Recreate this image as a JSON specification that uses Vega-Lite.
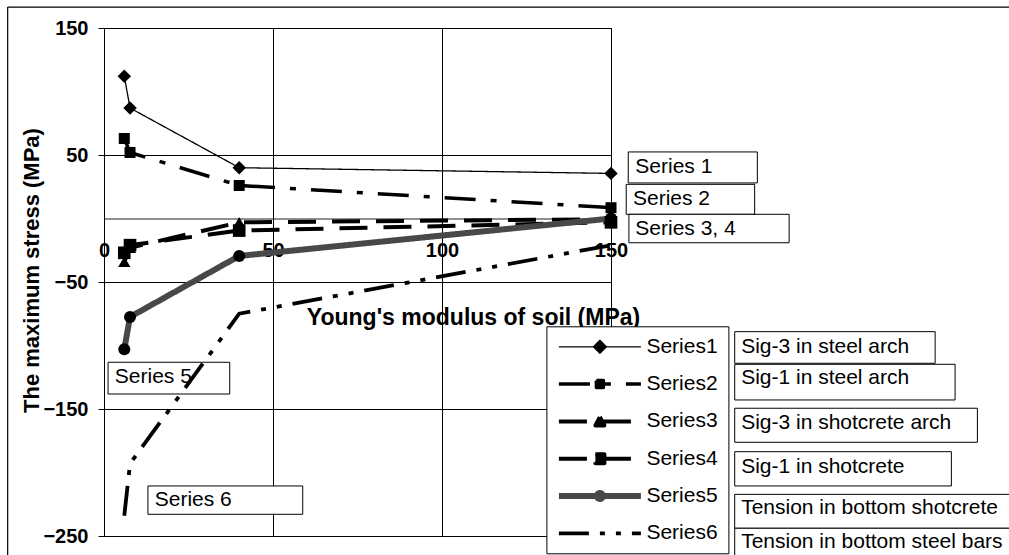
{
  "$schema": "https://vega.github.io/schema/vega-lite/v6.json",
  "width": 507,
  "height": 508,
  "autosize": {"type": "none"},
  "padding": {"left": 104, "top": 28, "right": 398, "bottom": 19},
  "background": "white",
  "config": {
    "font": "Liberation Sans",
    "view": {"stroke": "black", "strokeWidth": 1},
    "axis": {
      "labelFont": "Liberation Sans",
      "labelFontWeight": "bold",
      "labelColor": "black",
      "titleFont": "Liberation Sans",
      "titleFontWeight": "bold",
      "titleColor": "black",
      "gridColor": "black",
      "gridOpacity": 1,
      "gridWidth": 1,
      "labelOverlap": false,
      "labelFlush": false
    }
  },
  "datasets": {
    "series": [
      {"series": "Series1", "E": 6, "stress": 112},
      {"series": "Series1", "E": 7.7, "stress": 87},
      {"series": "Series1", "E": 40, "stress": 40},
      {"series": "Series1", "E": 150, "stress": 35.5},
      {"series": "Series2", "E": 6, "stress": 63},
      {"series": "Series2", "E": 7.7, "stress": 52},
      {"series": "Series2", "E": 40, "stress": 26},
      {"series": "Series2", "E": 150, "stress": 8.5},
      {"series": "Series3", "E": 6, "stress": -34},
      {"series": "Series3", "E": 7.7, "stress": -23},
      {"series": "Series3", "E": 40, "stress": -3},
      {"series": "Series3", "E": 150, "stress": -0.5},
      {"series": "Series4", "E": 6, "stress": -27},
      {"series": "Series4", "E": 7.7, "stress": -21},
      {"series": "Series4", "E": 40, "stress": -9.5},
      {"series": "Series4", "E": 150, "stress": -3},
      {"series": "Series5", "E": 6, "stress": -103},
      {"series": "Series5", "E": 7.7, "stress": -77.5},
      {"series": "Series5", "E": 40, "stress": -29.5},
      {"series": "Series5", "E": 150, "stress": 0},
      {"series": "Series6", "E": 6, "stress": -234},
      {"series": "Series6", "E": 7.7, "stress": -193},
      {"series": "Series6", "E": 40, "stress": -75},
      {"series": "Series6", "E": 150, "stress": -21}
    ],
    "boxes": [
      {"E": 155.1, "E2": 193.3, "stress": 52.4, "stress2": 28.0},
      {"E": 154.5, "E2": 192.5, "stress": 26.9, "stress2": 3.3},
      {"E": 155.3, "E2": 202.7, "stress": 3.3, "stress2": -19.1},
      {"E": 1.2, "E2": 37.2, "stress": -113.2, "stress2": -138.2},
      {"E": 13.0, "E2": 58.8, "stress": -210.6, "stress2": -232.9},
      {"E": 186.6, "E2": 245.9, "stress": -89.1, "stress2": -114.0},
      {"E": 186.6, "E2": 251.8, "stress": -114.8, "stress2": -142.9},
      {"E": 186.6, "E2": 258.4, "stress": -149.4, "stress2": -176.2},
      {"E": 186.6, "E2": 250.7, "stress": -183.6, "stress2": -210.6},
      {"E": 186.6, "E2": 272, "stress": -217.2, "stress2": -243.9},
      {"E": 186.6, "E2": 272, "stress": -243.9, "stress2": -275}
    ],
    "labels": [
      {"label": "Series 1", "E": 157.2, "stress": 40.2},
      {"label": "Series 2", "E": 156.5, "stress": 15.4},
      {"label": "Series 3, 4", "E": 157.2, "stress": -7.9},
      {"label": "Series 5", "E": 3.2, "stress": -124.8},
      {"label": "Series 6", "E": 15.0, "stress": -221.7},
      {"label": "Sig-3 in steel arch", "E": 188.5, "stress": -100.9},
      {"label": "Sig-1 in steel arch", "E": 188.5, "stress": -125.8},
      {"label": "Sig-3 in shotcrete arch", "E": 188.5, "stress": -160.8},
      {"label": "Sig-1 in shotcrete", "E": 188.5, "stress": -195.4},
      {"label": "Tension in bottom shotcrete", "E": 188.5, "stress": -228.2},
      {"label": "Tension in bottom steel bars", "E": 188.5, "stress": -254.5}
    ],
    "frame": [
      {"E": -28.5, "E2": 300, "stress": 166.5, "stress2": 166.5},
      {"E": -28.5, "E2": -28.5, "stress": 166.5, "stress2": -300}
    ]
  },
  "encoding": {
    "x": {
      "field": "E", "type": "quantitative",
      "scale": {"domain": [0, 150], "nice": false, "zero": false},
      "axis": {
        "title": "Young's modulus of soil (MPa)",
        "values": [0, 50, 100, 150],
        "offset": -317.5,
        "grid": true,
        "ticks": false,
        "domainColor": "#222222",
        "labelPadding": 22,
        "labelFontSize": 20,
        "titleFontSize": 23,
        "titleX": 369,
        "titleY": 98.5,
        "titleBaseline": "middle",
        "titleAlign": "center"
      }
    },
    "y": {
      "field": "stress", "type": "quantitative",
      "scale": {"domain": [-250, 150], "nice": false, "zero": false},
      "axis": {
        "title": "The maximum stress (MPa)",
        "values": [-250, -150, -50, 50, 150],
        "grid": true,
        "tickSize": 6,
        "tickColor": "black",
        "domainColor": "black",
        "labelPadding": 10,
        "labelFontSize": 20,
        "titleFontSize": 22,
        "titleX": -72.8,
        "titleY": 242,
        "titleAngle": 270,
        "titleBaseline": "middle",
        "titleAlign": "center"
      }
    }
  },
  "layer": [
    {
      "data": {"name": "frame"},
      "mark": {"type": "rule", "color": "black", "strokeWidth": 1.2},
      "encoding": {
        "x2": {"field": "E2"},
        "y2": {"field": "stress2"}
      }
    },
    {
      "data": {"name": "boxes"},
      "mark": {"type": "rect", "fill": "white", "stroke": "black", "strokeWidth": 1},
      "encoding": {
        "x2": {"field": "E2"},
        "y2": {"field": "stress2"}
      }
    },
    {
      "data": {"name": "labels"},
      "mark": {"type": "text", "align": "left", "baseline": "middle", "fontSize": 21, "font": "Liberation Sans", "color": "black"},
      "encoding": {
        "text": {"field": "label"}
      }
    },
    {
      "data": {"name": "series"},
      "mark": {"type": "line"},
      "encoding": {
        "color": {
          "field": "series", "type": "nominal",
          "scale": {"domain": ["Series1", "Series2", "Series3", "Series4", "Series5", "Series6"], "range": ["black", "black", "black", "black", "#484848", "black"]},
          "legend": {
            "orient": "none",
            "legendX": 442.4,
            "legendY": 298.3,
            "title": null,
            "strokeColor": "black",
            "fillColor": "white",
            "padding": 10,
            "cornerRadius": 0,
            "labelFont": "Liberation Sans",
            "labelFontSize": 21,
            "labelColor": "black",
            "labelLimit": 200,
            "symbolSize": 4,
            "symbolOffset": 33,
            "labelOffset": 36,
            "rowPadding": 15.3,
            "encode": {
              "symbols": {
                "update": {
                  "shape": {"signal": "datum.value === 'Series1' ? 'M-41,0H41M-6.5,0L0,-6.5L6.5,0L0,6.5Z' : datum.value === 'Series2' ? 'M-41,0H41M-3.5,-3.5H3.5V3.5H-3.5Z' : datum.value === 'Series3' ? 'M-41,0H41M0,-4.5L4.5,4H-4.5Z' : datum.value === 'Series4' ? 'M-41,0H41M-4.5,-4.5H4.5V4.5H-4.5Z' : datum.value === 'Series5' ? 'M-41,0H41M-3,0A3,3,0,1,0,3,0A3,3,0,1,0,-3,0Z' : 'M-41,0H41'"},
                  "fill": {"value": "black"},
                  "fillOpacity": {"value": 1},
                  "strokeJoin": {"value": "round"},
                  "strokeDash": {"signal": "datum.value === 'Series2' ? [31,15,6,15] : (datum.value === 'Series3' || datum.value === 'Series4') ? [28,16] : datum.value === 'Series6' ? [30,11,5,11,5,11] : [1,0]"},
                  "strokeWidth": {"signal": "datum.value === 'Series1' ? 1.3 : datum.value === 'Series5' ? 6 : 4"}
                }
              }
            }
          }
        },
        "strokeDash": {
          "field": "series", "type": "nominal", "legend": null,
          "scale": {"domain": ["Series1", "Series2", "Series3", "Series4", "Series5", "Series6"], "range": [[1, 0], [31, 15, 6, 15], [28, 16], [28, 16], [1, 0], [30, 11, 5, 11, 5, 11]]}
        },
        "strokeWidth": {
          "field": "series", "type": "nominal", "legend": null,
          "scale": {"type": "ordinal", "domain": ["Series1", "Series2", "Series3", "Series4", "Series5", "Series6"], "range": [1.3, 3.5, 4, 4, 6, 3.8]}
        }
      }
    },
    {
      "data": {"name": "series"},
      "transform": [{"filter": "datum.series !== 'Series6'"}],
      "mark": {"type": "point", "filled": true, "color": "black", "opacity": 1},
      "encoding": {
        "shape": {
          "field": "series", "type": "nominal", "legend": null,
          "scale": {"domain": ["Series1", "Series2", "Series3", "Series4", "Series5"], "range": ["diamond", "square", "triangle-up", "square", "circle"]}
        },
        "size": {
          "field": "series", "type": "nominal", "legend": null,
          "scale": {"type": "ordinal", "domain": ["Series1", "Series2", "Series3", "Series4", "Series5"], "range": [180, 121, 150, 160, 144]}
        }
      }
    }
  ]
}
